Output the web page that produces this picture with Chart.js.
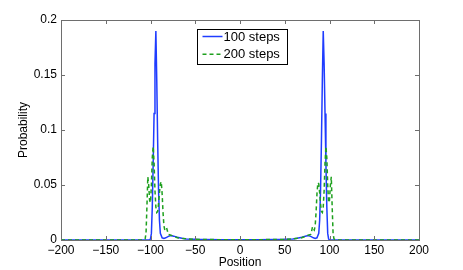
<!DOCTYPE html>
<html><head><meta charset="utf-8">
<script src="https://cdn.jsdelivr.net/npm/chart.js@4"></script>
<style>html,body{margin:0;padding:0;background:#fff}</style>
</head><body>
<canvas id="c" width="463" height="270" style="width:463px;height:270px"></canvas>
<script>
const xTicks = [-200,-150,-100,-50,0,50,100,150,200];
const xTickLabels = ['\u2212200','\u2212150','\u2212100','\u221250','0','50','100','150','200'];
const yTicks = [0,0.05,0.1,0.15,0.2];
const yTickLabels = ['0','0.05','0.1','0.15','0.2'];
const seriesNames = ['100 steps','200 steps'];

const pos100 = [-200,-101,-100,-99,-98,-97,-96,-95,-94,-93,-92,-91,-90,-89,-87,-85,-83,-80,-77,-74,-70,-65,-60,-50,-40,-20,0,
  20,39,49,59,64,69,73,76,79,82,84,86,88,89,90,91,92,93,94,95,96,97,98,99,100,200];
const prob100 = [0,0,0.001,0.006,0.03,0.07,0.115,0.16,0.19,0.145,0.09,0.045,0.018,0.006,0.002,0.0015,0.002,0.0033,0.004,0.0035,0.0025,0.0015,0.001,0.0006,0.0004,0.0002,0.0002,
  0.0002,0.0004,0.0006,0.001,0.0015,0.0025,0.0035,0.004,0.0033,0.002,0.0015,0.002,0.006,0.018,0.045,0.09,0.145,0.19,0.16,0.115,0.07,0.03,0.006,0.001,0,0];

const pos200 = [-200,-108,-106,-105,-104,-103,-102,-101,-100,-99,-98,-97,-96,-95,-94,-93,-92,-91,-90,-89,-88,-87,-86,-85,-84,-83,-82,-81,-80,-78,-76,-73,-70,-65,-60,-50,-40,0,
  39,49,59,64,69,72,75,77,79,80,81,82,83,84,85,86,87,88,89,90,91,92,93,94,95,96,97,98,99,100,101,102,103,104,105,107,200];
const prob200 = [0,0,0.001,0.006,0.03,0.0575,0.05,0.036,0.034,0.05,0.075,0.085,0.07,0.045,0.03,0.025,0.026,0.033,0.043,0.051,0.053,0.042,0.025,0.013,0.009,0.01,0.011,0.008,0.005,0.0045,0.004,0.003,0.002,0.0015,0.001,0.0006,0.0004,0.0002,
  0.0004,0.0006,0.001,0.0015,0.002,0.003,0.004,0.0045,0.005,0.008,0.012,0.01,0.009,0.013,0.025,0.042,0.052,0.051,0.043,0.033,0.026,0.025,0.03,0.045,0.07,0.085,0.075,0.05,0.034,0.036,0.05,0.0575,0.03,0.006,0.001,0,0];

const FONT = "'Liberation Sans', Arial, Helvetica, sans-serif";
const FRAME = '#6e6e6e';

const framePlugin = {
  id: 'frame',
  afterDraw(chart) {
    const ctx = chart.ctx, a = chart.chartArea;
    const xs = chart.scales.x, ys = chart.scales.y;
    ctx.save();
    ctx.strokeStyle = FRAME; ctx.lineWidth = 1;
    ctx.beginPath();
    xs.ticks.forEach(t => {
      const px = Math.round(xs.getPixelForValue(t.value)) + 0.5;
      ctx.moveTo(px, a.top); ctx.lineTo(px, a.top + 4);
      ctx.moveTo(px, a.bottom); ctx.lineTo(px, a.bottom - 4);
    });
    ys.ticks.forEach(t => {
      const py = Math.round(ys.getPixelForValue(t.value)) + 0.5;
      ctx.moveTo(a.left, py); ctx.lineTo(a.left + 4, py);
      ctx.moveTo(a.right, py); ctx.lineTo(a.right - 4, py);
    });
    ctx.stroke();
    ctx.strokeRect(Math.round(a.left) + 0.5, Math.round(a.top) + 0.5, Math.round(a.right - a.left), Math.round(a.bottom - a.top));
    // legend
    const lx = Math.round(a.left + 136) + 0.5, ly = Math.round(a.top + 9) + 0.5, lw = 90, lh = 35;
    ctx.fillStyle = '#fff';
    ctx.fillRect(lx, ly, lw, lh);
    ctx.strokeStyle = '#000';
    ctx.strokeRect(lx, ly, lw, lh);
    ctx.font = '13px ' + FONT;
    ctx.textBaseline = 'middle';
    chart.data.datasets.forEach((ds, i) => {
      const yy = ly + 7 + i * 17.7;
      ctx.strokeStyle = ds.borderColor; ctx.lineWidth = ds.borderWidth;
      ctx.setLineDash(ds.borderDash || []);
      ctx.beginPath(); ctx.moveTo(lx + 5, yy); ctx.lineTo(lx + 25, yy); ctx.stroke();
      ctx.setLineDash([]);
      ctx.fillStyle = '#000';
      ctx.fillText(ds.label, lx + 26, yy + 0.5);
    });
    ctx.restore();
  }
};

new Chart(document.getElementById('c'), {
  type: 'line',
  data: {
    datasets: [
      { label: seriesNames[0], data: pos100.map((x, i) => ({x, y: prob100[i]})),
        borderColor: '#1f3cff', borderWidth: 1.5, pointRadius: 0, fill: false, tension: 0, clip: 4, order: 1 },
      { label: seriesNames[1], data: pos200.map((x, i) => ({x, y: prob200[i]})),
        borderColor: '#1ea01e', borderWidth: 1.5, borderDash: [4, 3], pointRadius: 0, fill: false, tension: 0, clip: 4, order: 0 }
    ]
  },
  options: {
    responsive: false, animation: false, devicePixelRatio: 1,
    layout: { padding: { left: 0, right: 44, top: 20, bottom: 0 } },
    plugins: { legend: { display: false }, tooltip: { enabled: false } },
    scales: {
      x: {
        type: 'linear', min: -200, max: 200,
        afterBuildTicks: s => { s.ticks = xTicks.map(v => ({ value: v })); },
        afterFit: s => { s.height = 30; },
        grid: { display: false, drawTicks: false },
        border: { display: false },
        ticks: { padding: 3, color: '#000', font: { family: FONT, size: 12 }, maxRotation: 0,
          callback: v => xTickLabels[xTicks.indexOf(v)] },
        title: { display: true, text: 'Position', color: '#000', font: { family: FONT, size: 12 }, padding: { top: 0, bottom: 0 } }
      },
      y: {
        type: 'linear', min: 0, max: 0.2,
        afterBuildTicks: s => { s.ticks = yTicks.map(v => ({ value: v })); },
        afterFit: s => { s.width = 61; },
        grid: { display: false, drawTicks: false },
        border: { display: false },
        ticks: { padding: 4, color: '#000', font: { family: FONT, size: 12 },
          callback: (v, i) => yTickLabels[yTicks.indexOf(v)] },
        title: { display: true, text: 'Probability', color: '#000', font: { family: FONT, size: 12 }, padding: { top: 16, bottom: 0 } }
      }
    }
  },
  plugins: [framePlugin]
});
</script>
</body></html>
